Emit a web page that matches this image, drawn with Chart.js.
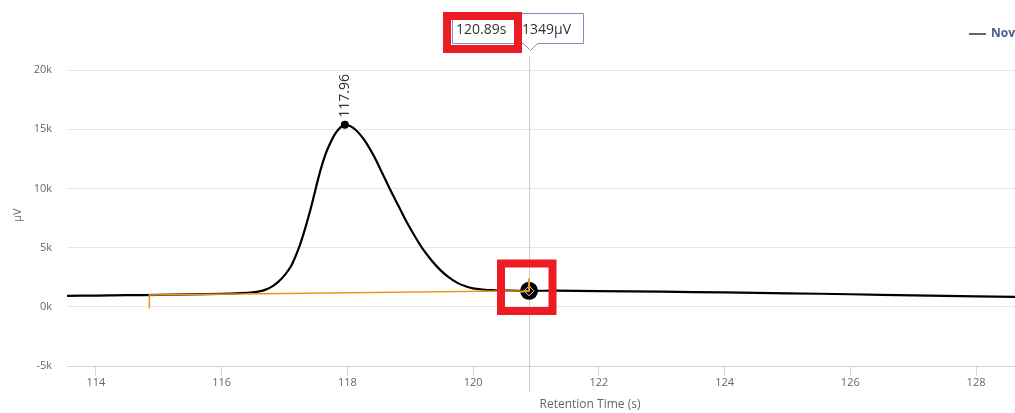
<!DOCTYPE html>
<html>
<head>
<meta charset="utf-8">
<script src="https://cdn.jsdelivr.net/npm/chart.js@4.4.0/dist/chart.umd.min.js"></script>
<style>
  html, body { margin: 0; padding: 0; background: #fff; }
  #wrap { width: 1015px; height: 413px; position: relative; }
</style>
</head>
<body>
<div id="wrap"><canvas id="grafico"></canvas></div>
<script>
const tiempos = [113.54, 114, 114.5, 115, 115.5, 116, 116.3, 116.5, 116.6, 116.7, 116.8, 116.9, 117.0, 117.1, 117.17, 117.25,
    117.33, 117.41, 117.49, 117.57, 117.65, 117.73, 117.81, 117.89, 117.96, 118.05, 118.13, 118.21, 118.3,
    118.42, 118.55, 118.68, 118.82, 118.95, 119.08, 119.21, 119.35, 119.48, 119.61, 119.75, 119.88, 120.0,
    120.15, 120.3, 120.6, 120.89, 121.3, 122, 123, 124, 125, 126, 127, 128, 128.62];
const senal = [930, 950, 980, 1010, 1050, 1100, 1160, 1230, 1300, 1450, 1700, 2100, 2650, 3400, 4200, 5300,
    6650, 8150, 9850, 11500, 12850, 13850, 14650, 15150, 15380, 15250, 14950, 14500, 13850,
    12750, 11350, 9900, 8450, 7100, 5900, 4800, 3850, 3100, 2500, 2020, 1730, 1560,
    1460, 1400, 1360, 1349, 1360, 1330, 1280, 1210, 1140, 1060, 970, 880, 830];

// Línea base de integración (con marcas verticales en los extremos)
const baseTiempos = [114.85, 114.85, 120.89, 120.89];
const baseValores = [-150, 1000, 1349, 2400];

const pico = { t: 117.96, v: 15380, etiqueta: '117.96' };
const cursor = { t: 120.89, v: 1349, textoT: '120.89s', textoV: '1349µV' };

const ticksX = [114, 116, 118, 120, 122, 124, 126, 128];
const ticksY = [-5000, 0, 5000, 10000, 15000, 20000];
const nombreSerie = 'Nov';

const fuente = '"Open Sans", "DejaVu Sans", sans-serif';

const extras = {
    id: 'extras',
    beforeDatasetsDraw(chart) {
        const ctx = chart.ctx;
        const x = chart.scales.x.getPixelForValue(cursor.t);
        ctx.save();
        ctx.strokeStyle = '#cccccc';
        ctx.lineWidth = 1;
        ctx.beginPath();
        ctx.moveTo(Math.round(x) + 0.5, 56);
        ctx.lineTo(Math.round(x) + 0.5, 392);
        ctx.stroke();
        ctx.restore();
    },
    afterDraw(chart) {
        const ctx = chart.ctx;
        const sx = chart.scales.x, sy = chart.scales.y;
        ctx.save();

        // Etiqueta del pico
        const px = sx.getPixelForValue(pico.t), py = sy.getPixelForValue(pico.v);
        ctx.translate(px, py - 7);
        ctx.rotate(-Math.PI / 2);
        ctx.fillStyle = '#333';
        ctx.font = '14px ' + fuente;
        ctx.textAlign = 'left';
        ctx.textBaseline = 'middle';
        ctx.fillText(pico.etiqueta, 0, 0);
        ctx.setTransform(1, 0, 0, 1, 0, 0);

        // Punto del cursor
        const cx = sx.getPixelForValue(cursor.t), cy = sy.getPixelForValue(cursor.v);
        ctx.fillStyle = '#000';
        ctx.beginPath();
        ctx.arc(cx, cy, 9, 0, Math.PI * 2);
        ctx.fill();
        ctx.strokeStyle = '#e0e0e0';
        ctx.lineWidth = 1;
        ctx.beginPath();
        ctx.moveTo(cx, cy - 5); ctx.lineTo(cx + 5, cy); ctx.lineTo(cx, cy + 5); ctx.lineTo(cx - 5, cy); ctx.closePath();
        ctx.stroke();
        ctx.strokeStyle = '#e8971c';
        ctx.lineWidth = 2;
        ctx.beginPath();
        ctx.moveTo(cx - 9, cy + 1); ctx.lineTo(cx, cy); ctx.lineTo(cx, cy - 12);
        ctx.stroke();

        // Tooltip
        ctx.fillStyle = 'rgba(255,255,255,0.95)';
        ctx.strokeStyle = '#8190b8';
        ctx.lineWidth = 1;
        ctx.beginPath();
        ctx.moveTo(452.5, 13.5);
        ctx.lineTo(583.5, 13.5);
        ctx.lineTo(583.5, 43.5);
        ctx.lineTo(537.5, 43.5);
        ctx.lineTo(530.5, 50.5);
        ctx.lineTo(523.5, 43.5);
        ctx.lineTo(452.5, 43.5);
        ctx.closePath();
        ctx.fill();
        ctx.stroke();
        ctx.fillStyle = '#333';
        ctx.font = '14px ' + fuente;
        ctx.textAlign = 'left';
        ctx.textBaseline = 'middle';
        ctx.fillText(cursor.textoT, 456, 30);
        ctx.fillText(cursor.textoV, 522, 30);

        // Recuadros rojos
        ctx.strokeStyle = '#ed1c24';
        ctx.lineWidth = 8;
        ctx.strokeRect(447, 16, 71, 33);
        ctx.strokeRect(501, 263.5, 51.5, 47.5);

        // Leyenda
        ctx.strokeStyle = '#666';
        ctx.lineWidth = 2;
        ctx.beginPath();
        ctx.moveTo(969, 34); ctx.lineTo(986, 34);
        ctx.stroke();
        ctx.fillStyle = '#4d5b8c';
        ctx.font = 'bold 12px ' + fuente;
        ctx.fillText(nombreSerie, 991, 34);

        // Títulos de ejes
        ctx.fillStyle = '#666';
        ctx.font = '12px ' + fuente;
        ctx.textAlign = 'center';
        ctx.fillText('Retention Time (s)', 590, 405);
        ctx.translate(18, 215);
        ctx.rotate(-Math.PI / 2);
        ctx.font = '11px ' + fuente;
        ctx.fillText('µV', 0, 0);
        ctx.restore();
    }
};

new Chart(document.getElementById('grafico').getContext('2d'), {
    type: 'line',
    data: {
        datasets: [{
            label: nombreSerie,
            data: tiempos.map((t, i) => ({ x: t, y: senal[i] })),
            borderColor: '#000',
            borderWidth: 2.2,
            pointRadius: tiempos.map(t => t === pico.t ? 4 : 0),
            pointBackgroundColor: '#000',
            pointBorderWidth: 0,
            tension: 0.3,
            fill: false,
            order: 2
        }, {
            label: 'Base',
            data: baseTiempos.map((t, i) => ({ x: t, y: baseValores[i] })),
            borderColor: '#e8971c',
            borderWidth: 1.6,
            pointRadius: 0,
            tension: 0,
            fill: false,
            order: 1
        }]
    },
    options: {
        responsive: true,
        maintainAspectRatio: false,
        animation: false,
        layout: { padding: { top: 70, left: 0, right: 0, bottom: 0 } },
        plugins: {
            legend: { display: false },
            tooltip: { enabled: false }
        },
        scales: {
            x: {
                type: 'linear',
                min: 113.54,
                max: 128.62,
                afterBuildTicks: scale => { scale.ticks = ticksX.map(v => ({ value: v })); },
                afterFit: scale => { scale.height = 47; },
                grid: {
                    drawOnChartArea: false,
                    drawTicks: true,
                    tickLength: 10,
                    color: '#ccd6eb'
                },
                border: { display: true, color: '#ccd6eb' },
                ticks: {
                    color: '#666',
                    font: { family: fuente, size: 11 },
                    padding: 0,
                    maxRotation: 0,
                    autoSkip: false
                }
            },
            y: {
                min: -5000,
                max: 20000,
                afterBuildTicks: scale => { scale.ticks = ticksY.map(v => ({ value: v })); },
                afterFit: scale => { scale.width = 67; },
                grid: {
                    color: '#e6e6e6',
                    drawTicks: false
                },
                border: { display: false },
                ticks: {
                    color: '#666',
                    font: { family: fuente, size: 11 },
                    padding: 15,
                    callback: v => (v / 1000) + 'k'
                }
            }
        }
    },
    plugins: [extras]
});
</script>
</body>
</html>
